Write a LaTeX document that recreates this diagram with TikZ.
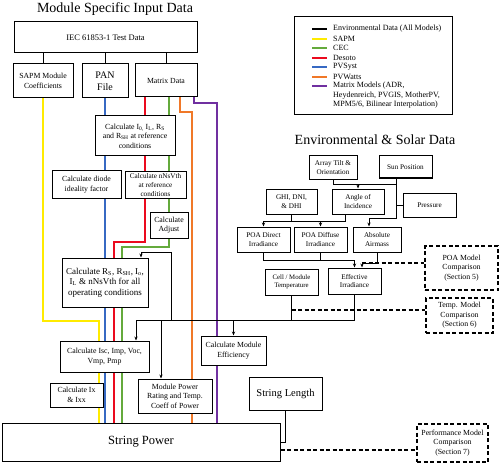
\documentclass[tikz,border=0pt]{standalone}
\usepackage{fontspec}
\setmainfont{Liberation Serif}
\usetikzlibrary{arrows.meta,backgrounds}
\definecolor{sapmc}{RGB}{255,235,0}
\definecolor{cecc}{RGB}{100,170,60}
\definecolor{desotoc}{RGB}{235,10,30}
\definecolor{pvsystc}{RGB}{55,105,195}
\definecolor{pvwattsc}{RGB}{240,120,40}
\definecolor{matrixc}{RGB}{112,48,160}
\tikzset{
  box/.style={draw, fill=white, line width=1pt, align=center, inner sep=0pt},
  cmpbox/.style={box, line width=1.3pt, dash pattern=on 4pt off 2.5pt},
  txt/.style={font=\fontsize{7.8}{9.6}\selectfont},
  txtsm/.style={font=\fontsize{7.2}{8.6}\selectfont},
  wire/.style={line width=1pt},
  feed/.style={wire, -{Stealth[length=4pt,width=3.2pt]}},
  cmpline/.style={line width=1.3pt, dash pattern=on 4pt off 2.5pt},
  model/.style={line width=1.4pt}
}
\begin{document}
\begin{tikzpicture}[x=1pt,y=-1pt]
\useasboundingbox (0,0) rectangle (500,465);
%%%%%%%%%%%%%%%%%%%%%%%%%%%%%%%% titles
\node[font=\fontsize{14}{16}\selectfont] (titlemod) at (115,9) {Module Specific Input Data};
\node[font=\fontsize{14}{16}\selectfont] (titleenv) at (375,140) {Environmental \& Solar Data};
%%%%%%%%%%%%%%%%%%%%%%%%%%%%%%%% module data
\node[box, minimum width=183pt, minimum height=31pt, font=\fontsize{8.5}{10}\selectfont] (iec) at (105.5,37.5) {IEC 61853-1 Test Data};
\node[box, txt, minimum width=60pt, minimum height=34pt] (sapm) at (43,81) {SAPM Module\\Coefficients};
\node[box, minimum width=46pt, minimum height=34pt, font=\fontsize{10}{12.5}\selectfont] (pan) at (105,81) {PAN\\File};
\node[box, txt, minimum width=62pt, minimum height=33pt] (matrix) at (166,80.5) {Matrix Data};
\node[box, txt, minimum width=80pt, minimum height=40pt] (calcref) at (135,136) {Calculate I\textsubscript{0,} I\textsubscript{L}, R\textsubscript{S}\\and R\textsubscript{SH} at reference\\conditions};
\node[box, txt, minimum width=69pt, minimum height=27pt] (diode) at (86.5,184.5) {Calculate diode\\ideality factor};
\node[box, txtsm, minimum width=61pt, minimum height=26pt] (nnsref) at (155.5,185) {Calculate nNsVth\\at reference\\conditions};
\node[box, txt, minimum width=38pt, minimum height=26pt] (adjust) at (169,225) {Calculate\\Adjust};
\node[box, minimum width=86pt, minimum height=49pt, font=\fontsize{9}{10.5}\selectfont] (calcop) at (105,282.5) {Calculate R\textsubscript{S}, R\textsubscript{SH}, I\textsubscript{o},\\I\textsubscript{L} \& nNsVth for all\\operating conditions};
\node[box, txt, minimum width=89pt, minimum height=31pt] (iscpmp) at (104.5,356.5) {Calculate Isc, Imp, Voc,\\Vmp, Pmp};
\node[box, txt, minimum width=53pt, minimum height=24pt] (ixx) at (76.5,395) {Calculate Ix\\\& Ixx};
\node[box, txt, minimum width=74pt, minimum height=34pt] (rating) at (175,396) {Module Power\\Rating and Temp.\\Coeff of Power};
\node[box, txt, minimum width=65pt, minimum height=29pt] (effic) at (233.5,350.5) {Calculate Module\\Efficiency};
\node[box, minimum width=278pt, minimum height=38pt, font=\fontsize{12.5}{14}\selectfont] (strpow) at (141,442) {String Power};
\node[box, minimum width=73pt, minimum height=33pt, font=\fontsize{10.5}{12}\selectfont] (strlen) at (285.5,393.5) {String Length};
%%%%%%%%%%%%%%%%%%%%%%%%%%%%%%%% environmental data
\node[box, txtsm, minimum width=48pt, minimum height=23pt] (tilt) at (333,167.5) {Array Tilt \&\\Orientation};
\node[box, txtsm, minimum width=53pt, minimum height=22pt] (sunpos) at (405.5,167) {Sun Position};
\node[box, txtsm, minimum width=51pt, minimum height=25pt] (ghi) at (291.5,201.5) {GHI, DNI,\\\& DHI};
\node[box, txtsm, minimum width=52pt, minimum height=25pt] (aoi) at (358,201.5) {Angle of\\Incidence};
\node[box, txtsm, minimum width=53pt, minimum height=24pt] (press) at (429.5,205) {Pressure};
\node[box, txtsm, minimum width=53pt, minimum height=25pt] (poadir) at (263.5,239.5) {POA Direct\\Irradiance};
\node[box, txtsm, minimum width=53pt, minimum height=25pt] (poadif) at (320.5,239.5) {POA Diffuse\\Irradiance};
\node[box, txtsm, minimum width=48pt, minimum height=25pt] (airmass) at (377,239.5) {Absolute\\Airmass};
\node[box, font=\fontsize{6.8}{8.4}\selectfont, minimum width=53pt, minimum height=26pt] (celltemp) at (291.5,282) {Cell / Module\\Temperature};
\node[box, txtsm, minimum width=53pt, minimum height=26pt] (effirr) at (354.5,281) {Effective\\Irradiance};
%%%%%%%%%%%%%%%%%%%%%%%%%%%%%%%% comparisons
\node[cmpbox, txt, minimum width=73pt, minimum height=44pt] (poacmp) at (461.5,268) {POA Model\\Comparison\\(Section 5)};
\node[cmpbox, txt, minimum width=67pt, minimum height=35pt] (tempcmp) at (459.5,315.5) {Temp. Model\\Comparison\\(Section 6)};
\node[cmpbox, txt, minimum width=71pt, minimum height=38pt] (perfcmp) at (452.5,443) {Performance Model\\Comparison\\(Section 7)};
%%%%%%%%%%%%%%%%%%%%%%%%%%%%%%%% legend
\draw[line width=1pt] (294,17) rectangle (452,115);
\foreach \col/\lab [count=\i from 0] in {black/{Environmental Data (All Models)}, sapmc/SAPM, cecc/CEC, desotoc/Desoto, pvsystc/PVSyst, pvwattsc/PVWatts}{
  \draw[\col, line width=2pt] (312,{29+9.55*\i}) -- (327,{29+9.55*\i});
  \node[anchor=west, inner sep=0pt, font=\fontsize{8}{9.55}\selectfont] (leg\i) at (333,{29+9.55*\i}) {\lab};
}
\draw[matrixc, line width=2pt] (312,86.3) -- (327,86.3);
\node[anchor=north west, align=left, inner sep=0pt, font=\fontsize{8}{9.55}\selectfont] (leg6) at (333,82) {Matrix Models (ADR,\\Heydenreich, PVGIS, MotherPV,\\MPM5/6, Bilinear Interpolation)};
%%%%%%%%%%%%%%%%%%%%%%%%%%%%%%%% bend points
\coordinate (sapmbend) at (99,321);
\coordinate (desotoA) at (145,242);
\coordinate (desotoB) at (114,242);
\coordinate (cecB) at (122,247);
\coordinate (pvwattsA) at (180,112);
\coordinate (pvwattsB) at (192,112);
\coordinate (matrixA) at (194,103);
\coordinate (matrixB) at (217,103);
\coordinate (sunjoin) at (396,184);
\coordinate (airturn) at (369,218);
\coordinate (irrbus) at (345,221);
\coordinate (poajoin) at (0,260);
\coordinate (airjoin) at (362,263);
\coordinate (opbus) at (136,320);
\coordinate (tempjoin) at (0,310);
\coordinate (ratingfeed) at (161,320);
\coordinate (opfeed) at (171,252);
\coordinate (opdrop) at (141,252);
\coordinate (perfjoin) at (0,450);
%%%%%%%%%%%%%%%%%%%%%%%%%%%%%%%% model paths
\begin{scope}[on background layer]
\draw[model, sapmc] (sapm.south) |- (sapmbend) -- (sapmbend |- strpow.north);
\draw[model, pvsystc] (pan.south) -- (pan.south |- strpow.north);
\draw[model, desotoc] (matrix.south -| desotoA) -- (desotoA) -- (desotoB) -- (desotoB |- strpow.north);
\draw[model, cecc] (matrix.south -| adjust.north) -- (adjust.south) |- (cecB) -- (cecB |- strpow.north);
\draw[model, pvwattsc] (matrix.south -| pvwattsA) -- (pvwattsA) -- (pvwattsB) -- (pvwattsB |- strpow.north);
\draw[model, matrixc] (matrix.south -| matrixA) -- (matrixA) -- (matrixB) -- (matrixB |- strpow.north);
\end{scope}
%%%%%%%%%%%%%%%%%%%%%%%%%%%%%%%% input links
\draw[wire] (sapm.north |- iec.south) -- (sapm.north);
\draw[wire] (pan.north |- iec.south) -- (pan.north);
\draw[wire] (matrix.north |- iec.south) -- (matrix.north);
%%%%%%%%%%%%%%%%%%%%%%%%%%%%%%%% environmental links
\draw[wire] (tilt.south) |- (sunjoin);
\draw[feed] (aoi.north |- sunjoin) -- (aoi.north);
\draw[feed] (sunpos.south -| sunjoin) |- (airturn) -- (airturn |- airmass.north);
\draw[wire] (press.west) -- (press.west -| sunjoin);
\draw[wire] (ghi.south) -- (ghi.south |- irrbus);
\draw[feed] (irrbus |- aoi.south) -- (irrbus) -| (poadir.north);
\draw[feed] (poadif.north |- irrbus) -- (poadif.north);
\draw[feed] (poadir.south) |- (effirr.north |- poajoin) -- (effirr.north);
\draw[wire] (poadif.south) -- (poadif.south |- poajoin);
\draw[feed] (airmass.south) |- (airjoin) -- (airjoin |- effirr.north);
\draw[cmpline] (airjoin) -- (airjoin -| poacmp.west);
%%%%%%%%%%%%%%%%%%%%%%%%%%%%%%%% operating conditions bus
\draw[wire] (effirr.south) |- (opbus);
\draw[wire] (celltemp.south) -- (celltemp.south |- opbus);
\draw[cmpline] (celltemp.south |- tempjoin) -- (tempcmp.west |- tempjoin);
\draw[feed] (opbus) -- (opbus |- iscpmp.north);
\draw[feed] (ratingfeed) -- (ratingfeed |- rating.north);
\draw[feed] (effic.north |- opbus) -- (effic.north);
\draw[feed] (opfeed |- opbus) -- (opfeed) -- (opdrop) -- (opdrop |- calcop.north);
%%%%%%%%%%%%%%%%%%%%%%%%%%%%%%%% string
\draw[wire] (strlen.south) |- (strpow.east);
\draw[cmpline] (strpow.east |- perfjoin) -- (perfcmp.west |- perfjoin);
\end{tikzpicture}
\end{document}
